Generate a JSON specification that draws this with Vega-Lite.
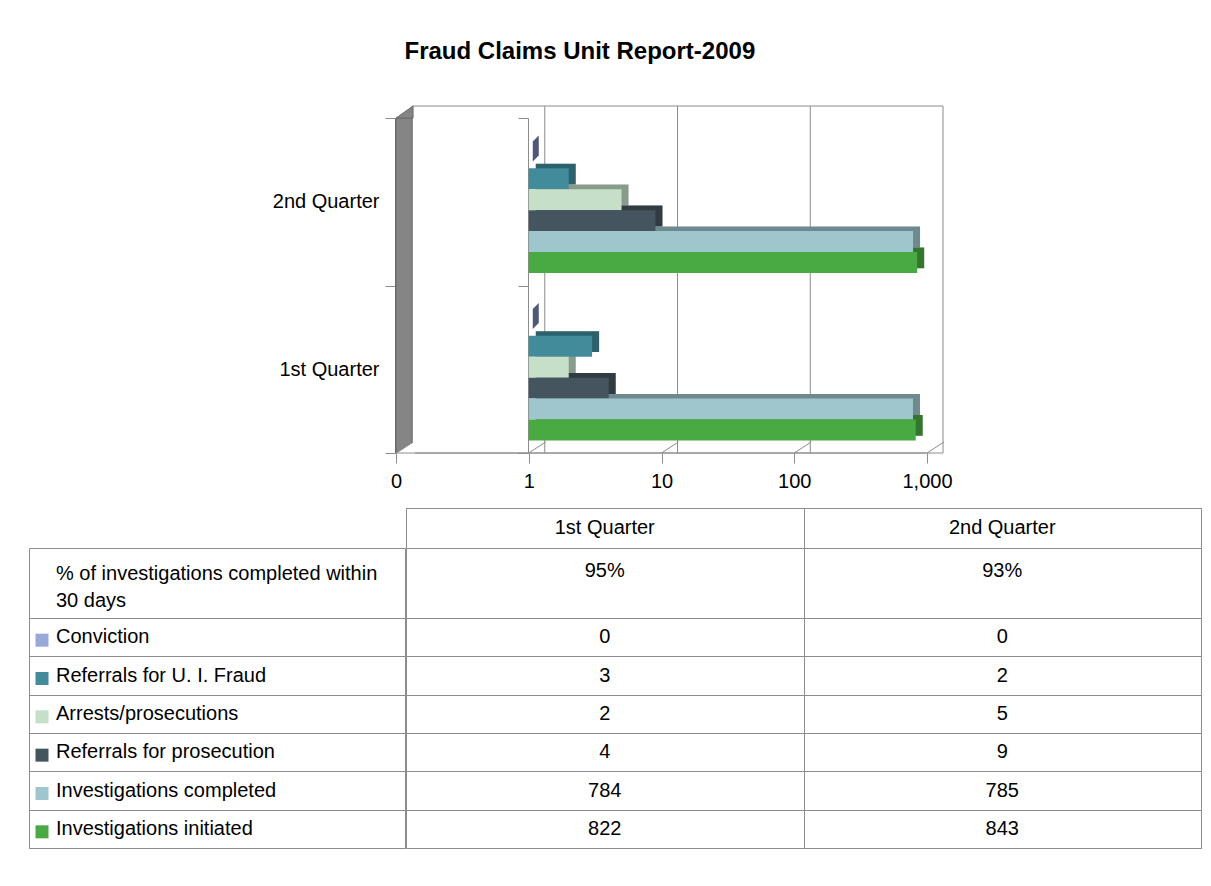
{
  "$schema": "https://vega.github.io/schema/vega-lite/v6.json",
  "padding": {"left": 28, "top": 40, "right": 10, "bottom": 10},
  "background": "white",
  "title": {"text": "Fraud Claims Unit Report-2009", "anchor": "start", "dx": 376, "fontSize": 24, "fontWeight": "bold", "font": "Liberation Sans", "color": "#000000", "offset": 40, "baseline": "top"},
  "config": {
    "view": {"stroke": null},
    "font": "Liberation Sans",
    "text": {"font": "Liberation Sans", "fontSize": 20, "color": "#000000"},
    "axis": {"labelFont": "Liberation Sans"}
  },
  "datasets": {
    "bars": [
      {"quarter": "1st Quarter", "series": "Conviction", "value": 0},
      {"quarter": "1st Quarter", "series": "Referrals for U. I. Fraud", "value": 3},
      {"quarter": "1st Quarter", "series": "Arrests/prosecutions", "value": 2},
      {"quarter": "1st Quarter", "series": "Referrals for prosecution", "value": 4},
      {"quarter": "1st Quarter", "series": "Investigations completed", "value": 784},
      {"quarter": "1st Quarter", "series": "Investigations initiated", "value": 822},
      {"quarter": "2nd Quarter", "series": "Conviction", "value": 0},
      {"quarter": "2nd Quarter", "series": "Referrals for U. I. Fraud", "value": 2},
      {"quarter": "2nd Quarter", "series": "Arrests/prosecutions", "value": 5},
      {"quarter": "2nd Quarter", "series": "Referrals for prosecution", "value": 9},
      {"quarter": "2nd Quarter", "series": "Investigations completed", "value": 785},
      {"quarter": "2nd Quarter", "series": "Investigations initiated", "value": 843}
    ],
    "pct": [
      {"quarter": "1st Quarter", "pct": "95%"},
      {"quarter": "2nd Quarter", "pct": "93%"}
    ]
  },
  "bounds": "flush",
  "spacing": 55,
  "vconcat": [
    {
      "width": 917,
      "height": 335,
      "data": {"name": "bars"},
      "resolve": {"scale": {"yOffset": "independent"}, "axis": {"y": "independent"}},
      "layer": [
        {
          "data": {"values": [{}]},
          "mark": {"type": "rect", "fill": "transparent", "stroke": "#8c8c8c", "strokeWidth": 1, "yOffset": -12, "y2Offset": -12},
          "encoding": {
            "x": {"datum": 0.132, "type": "quantitative", "scale": {"type": "log", "domain": [0.0001718, 1390], "nice": false},
              "axis": {"values": [0.1, 1, 10, 100, 1000], "format": ",.0f", "tickSize": 10, "tickColor": "#8c8c8c", "domain": false, "grid": false, "labelFontSize": 20, "labelColor": "#000000", "labelPadding": 8, "labelFont": "Liberation Sans", "title": null, "labelFlush": false, "labelOverlap": false}},
            "x2": {"datum": 1320}
          }
        },
        {
          "data": {"values": [{"g": 1}, {"g": 10}, {"g": 100}]},
          "mark": {"type": "rule", "color": "#8c8c8c", "xOffset": 16, "yOffset": -12, "y2Offset": -12},
          "encoding": {
            "x": {"field": "g", "type": "quantitative", "scale": {"type": "log", "domain": [0.0001718, 1390], "nice": false},
              "axis": {"values": [0.1, 1, 10, 100, 1000], "format": ",.0f", "tickSize": 10, "tickColor": "#8c8c8c", "domain": false, "grid": false, "labelFontSize": 20, "labelColor": "#000000", "labelPadding": 8, "labelFont": "Liberation Sans", "title": null, "labelFlush": false, "labelOverlap": false}}
          }
        },
        {
          "data": {"values": [{}]},
          "mark": {"type": "rect", "fill": "#858585", "stroke": "#6a6a6a", "strokeWidth": 1},
          "encoding": {
            "x": {"datum": 0.1, "type": "quantitative", "scale": {"type": "log", "domain": [0.0001718, 1390], "nice": false},
              "axis": {"values": [0.1, 1, 10, 100, 1000], "format": ",.0f", "tickSize": 10, "tickColor": "#8c8c8c", "domain": false, "grid": false, "labelFontSize": 20, "labelColor": "#000000", "labelPadding": 8, "labelFont": "Liberation Sans", "title": null, "labelFlush": false, "labelOverlap": false}},
            "x2": {"datum": 0.132}
          }
        },
        {
          "data": {"values": [{}]},
          "mark": {"type": "point", "shape": "M0,0L1,-0.7L1,0Z", "size": 1156, "filled": true, "fill": "#858585", "stroke": "#6a6a6a", "strokeWidth": 1, "opacity": 1},
          "encoding": {
            "x": {"datum": 0.1, "type": "quantitative", "scale": {"type": "log", "domain": [0.0001718, 1390], "nice": false},
              "axis": {"values": [0.1, 1, 10, 100, 1000], "format": ",.0f", "tickSize": 10, "tickColor": "#8c8c8c", "domain": false, "grid": false, "labelFontSize": 20, "labelColor": "#000000", "labelPadding": 8, "labelFont": "Liberation Sans", "title": null, "labelFlush": false, "labelOverlap": false}},
            "y": {"datum": "2nd Quarter", "type": "nominal", "bandPosition": 0, "scale": {"domain": ["2nd Quarter", "1st Quarter"], "paddingInner": 0, "paddingOuter": 0}, "axis": null}
          }
        },
        {
          "data": {"values": [{}]},
          "mark": {"type": "point", "shape": "M0.05,0L1.1,-0.68L1.1,0.1L0.05,0.1Z", "size": 1156, "filled": true, "fill": "#ffffff", "strokeWidth": 0, "opacity": 1},
          "encoding": {
            "x": {"datum": 0.1, "type": "quantitative", "scale": {"type": "log", "domain": [0.0001718, 1390], "nice": false},
              "axis": {"values": [0.1, 1, 10, 100, 1000], "format": ",.0f", "tickSize": 10, "tickColor": "#8c8c8c", "domain": false, "grid": false, "labelFontSize": 20, "labelColor": "#000000", "labelPadding": 8, "labelFont": "Liberation Sans", "title": null, "labelFlush": false, "labelOverlap": false}},
            "y": {"datum": "1st Quarter", "type": "nominal", "bandPosition": 1, "scale": {"domain": ["2nd Quarter", "1st Quarter"], "paddingInner": 0, "paddingOuter": 0}, "axis": null}
          }
        },
        {
          "data": {"values": [{}]},
          "mark": {"type": "rule", "color": "#8c8c8c"},
          "encoding": {
            "x": {"datum": 0.1, "type": "quantitative", "scale": {"type": "log", "domain": [0.0001718, 1390], "nice": false},
              "axis": {"values": [0.1, 1, 10, 100, 1000], "format": ",.0f", "tickSize": 10, "tickColor": "#8c8c8c", "domain": false, "grid": false, "labelFontSize": 20, "labelColor": "#000000", "labelPadding": 8, "labelFont": "Liberation Sans", "title": null, "labelFlush": false, "labelOverlap": false}},
            "x2": {"datum": 1000},
            "y": {"datum": "1st Quarter", "type": "nominal", "bandPosition": 1, "scale": {"domain": ["2nd Quarter", "1st Quarter"], "paddingInner": 0, "paddingOuter": 0}, "axis": null}
          }
        },
        {
          "data": {"values": [{"g": 0.1}, {"g": 1}, {"g": 10}, {"g": 100}, {"g": 1000}]},
          "mark": {"type": "point", "shape": "M0,0L1,-0.65", "size": 1156, "filled": false, "stroke": "#8c8c8c", "strokeWidth": 1, "opacity": 1},
          "encoding": {
            "x": {"field": "g", "type": "quantitative", "scale": {"type": "log", "domain": [0.0001718, 1390], "nice": false},
              "axis": {"values": [0.1, 1, 10, 100, 1000], "format": ",.0f", "tickSize": 10, "tickColor": "#8c8c8c", "domain": false, "grid": false, "labelFontSize": 20, "labelColor": "#000000", "labelPadding": 8, "labelFont": "Liberation Sans", "title": null, "labelFlush": false, "labelOverlap": false}},
            "y": {"datum": "1st Quarter", "type": "nominal", "bandPosition": 1, "scale": {"domain": ["2nd Quarter", "1st Quarter"], "paddingInner": 0, "paddingOuter": 0}, "axis": null}
          }
        },
        {
          "mark": {"type": "bar", "xOffset": 7, "x2Offset": 7},
          "encoding": {
            "y": {"field": "quarter", "type": "nominal", "scale": {"domain": ["2nd Quarter", "1st Quarter"], "paddingInner": 0, "paddingOuter": 0},
              "axis": {"orient": "left", "offset": -366, "tickBand": "extent", "tickSize": 10, "tickColor": "#8c8c8c", "domainColor": "#6a6a6a", "labelFontSize": 20, "labelColor": "#000000", "labelPadding": 6, "labelFont": "Liberation Sans", "title": null, "grid": false}},
            "yOffset": {"field": "series", "type": "nominal", "scale": {"domain": ["Conviction", "Referrals for U. I. Fraud", "Arrests/prosecutions", "Referrals for prosecution", "Investigations completed", "Investigations initiated"], "paddingInner": 0, "paddingOuter": 1.125, "align": 0.59}},
            "x": {"field": "value", "type": "quantitative", "scale": {"type": "log", "domain": [0.0001718, 1390], "nice": false},
              "axis": {"values": [0.1, 1, 10, 100, 1000], "format": ",.0f", "tickSize": 10, "tickColor": "#8c8c8c", "domain": false, "grid": false, "labelFontSize": 20, "labelColor": "#000000", "labelPadding": 8, "labelFont": "Liberation Sans", "title": null, "labelFlush": false, "labelOverlap": false}},
            "x2": {"datum": 1},
            "color": {"field": "series", "type": "nominal", "scale": {"domain": ["Conviction", "Referrals for U. I. Fraud", "Arrests/prosecutions", "Referrals for prosecution", "Investigations completed", "Investigations initiated"], "range": ["#98A8D8", "#418B9A", "#C5DFC8", "#45555F", "#9FC6CD", "#49A942"]}, "legend": null}
          }
        },
        {
          "mark": {"type": "bar", "xOffset": 7, "x2Offset": 7, "color": "#000000", "opacity": 0.3},
          "encoding": {
            "y": {"field": "quarter", "type": "nominal", "scale": {"domain": ["2nd Quarter", "1st Quarter"], "paddingInner": 0, "paddingOuter": 0},
              "axis": {"orient": "left", "offset": -499, "tickBand": "extent", "tickSize": 10, "tickColor": "#8c8c8c", "domainColor": "#8c8c8c", "labels": false, "title": null, "grid": false}},
            "yOffset": {"field": "series", "type": "nominal", "scale": {"domain": ["Conviction", "Referrals for U. I. Fraud", "Arrests/prosecutions", "Referrals for prosecution", "Investigations completed", "Investigations initiated"], "paddingInner": 0, "paddingOuter": 1.125, "align": 0.59}},
            "x": {"field": "value", "type": "quantitative", "scale": {"type": "log", "domain": [0.0001718, 1390], "nice": false},
              "axis": {"values": [0.1, 1, 10, 100, 1000], "format": ",.0f", "tickSize": 10, "tickColor": "#8c8c8c", "domain": false, "grid": false, "labelFontSize": 20, "labelColor": "#000000", "labelPadding": 8, "labelFont": "Liberation Sans", "title": null, "labelFlush": false, "labelOverlap": false}},
            "x2": {"datum": 1}
          }
        },
        {
          "mark": {"type": "bar"},
          "encoding": {
            "y": {"field": "quarter", "type": "nominal", "scale": {"domain": ["2nd Quarter", "1st Quarter"], "paddingInner": 0, "paddingOuter": 0}, "axis": null},
            "yOffset": {"field": "series", "type": "nominal", "scale": {"domain": ["Conviction", "Referrals for U. I. Fraud", "Arrests/prosecutions", "Referrals for prosecution", "Investigations completed", "Investigations initiated"], "paddingInner": 0, "paddingOuter": 1.125, "align": 0.7}},
            "x": {"field": "value", "type": "quantitative", "scale": {"type": "log", "domain": [0.0001718, 1390], "nice": false},
              "axis": {"values": [0.1, 1, 10, 100, 1000], "format": ",.0f", "tickSize": 10, "tickColor": "#8c8c8c", "domain": false, "grid": false, "labelFontSize": 20, "labelColor": "#000000", "labelPadding": 8, "labelFont": "Liberation Sans", "title": null, "labelFlush": false, "labelOverlap": false}},
            "x2": {"datum": 1},
            "color": {"field": "series", "type": "nominal", "scale": {"domain": ["Conviction", "Referrals for U. I. Fraud", "Arrests/prosecutions", "Referrals for prosecution", "Investigations completed", "Investigations initiated"], "range": ["#98A8D8", "#418B9A", "#C5DFC8", "#45555F", "#9FC6CD", "#49A942"]}, "legend": null}
          }
        },
        {
          "transform": [{"filter": "datum.value === 0"}],
          "mark": {"type": "point", "shape": "M0,1L0,-1L0.6,-1.6L0.6,0.4Z", "size": 400, "filled": true, "fill": "#4F5878", "strokeWidth": 0, "opacity": 1, "xOffset": 4},
          "encoding": {
            "y": {"field": "quarter", "type": "nominal", "scale": {"domain": ["2nd Quarter", "1st Quarter"], "paddingInner": 0, "paddingOuter": 0}, "axis": null},
            "yOffset": {"field": "series", "type": "nominal", "scale": {"domain": ["Conviction", "Referrals for U. I. Fraud", "Arrests/prosecutions", "Referrals for prosecution", "Investigations completed", "Investigations initiated"], "paddingInner": 0, "paddingOuter": 1.125, "align": 0.7}},
            "x": {"datum": 1, "type": "quantitative", "scale": {"type": "log", "domain": [0.0001718, 1390], "nice": false},
              "axis": {"values": [0.1, 1, 10, 100, 1000], "format": ",.0f", "tickSize": 10, "tickColor": "#8c8c8c", "domain": false, "grid": false, "labelFontSize": 20, "labelColor": "#000000", "labelPadding": 8, "labelFont": "Liberation Sans", "title": null, "labelFlush": false, "labelOverlap": false}}
          }
        }
      ]
    },
    {
      "spacing": -1,
      "bounds": "full",
      "hconcat": [
        {
          "spacing": 0,
          "bounds": "flush",
          "vconcat": [
            {
              "width": 376, "height": 40,
              "data": {"values": [{}]},
              "mark": {"type": "text"},
              "encoding": {"text": {"value": ""}}
            },
            {
              "width": 376, "height": 70,
              "data": {"values": [{}]},
              "view": {"stroke": "#8c8c8c"},
              "mark": {"type": "text", "align": "left", "baseline": "middle", "fontSize": 20, "lineHeight": 27},
              "encoding": {
                "x": {"value": 27},
                "y": {"value": 26},
                "text": {"value": ["% of investigations completed within", "30 days"]}
              }
            },
            {
              "width": 376, "height": 230,
              "data": {"name": "bars"},
              "transform": [{"filter": "datum.quarter === '1st Quarter'"}],
              "view": {"stroke": "#8c8c8c"},
              "encoding": {
                "y": {"field": "series", "type": "nominal",
                  "scale": {"domain": ["Conviction", "Referrals for U. I. Fraud", "Arrests/prosecutions", "Referrals for prosecution", "Investigations completed", "Investigations initiated"], "paddingInner": 0, "paddingOuter": 0},
                  "axis": {"labels": false, "ticks": false, "domain": false, "grid": true, "tickBand": "extent", "gridColor": "#8c8c8c", "title": null}}
              },
              "layer": [
                {
                  "mark": {"type": "square", "size": 169, "opacity": 1, "yOffset": 3},
                  "encoding": {
                    "x": {"value": 13},
                    "color": {"field": "series", "type": "nominal", "scale": {"domain": ["Conviction", "Referrals for U. I. Fraud", "Arrests/prosecutions", "Referrals for prosecution", "Investigations completed", "Investigations initiated"], "range": ["#98A8D8", "#418B9A", "#C5DFC8", "#45555F", "#9FC6CD", "#49A942"]}, "legend": null}
                  }
                },
                {
                  "mark": {"type": "text", "align": "left", "baseline": "middle", "fontSize": 20},
                  "encoding": {
                    "x": {"value": 27},
                    "text": {"field": "series"}
                  }
                }
              ]
            }
          ]
        },
        {
          "spacing": 0,
          "bounds": "flush",
          "vconcat": [
            {
              "width": 795, "height": 40,
              "data": {"name": "pct"},
              "view": {"stroke": "#8c8c8c"},
              "mark": {"type": "text", "fontSize": 20, "baseline": "middle"},
              "encoding": {
                "x": {"field": "quarter", "type": "nominal", "scale": {"domain": ["1st Quarter", "2nd Quarter"], "paddingInner": 0, "paddingOuter": 0},
                  "axis": {"orient": "top", "labels": false, "ticks": false, "domain": false, "grid": true, "tickBand": "extent", "gridColor": "#8c8c8c", "title": null}},
                "text": {"field": "quarter"}
              }
            },
            {
              "width": 795, "height": 70,
              "data": {"name": "pct"},
              "view": {"stroke": "#8c8c8c"},
              "mark": {"type": "text", "fontSize": 20, "baseline": "middle"},
              "encoding": {
                "x": {"field": "quarter", "type": "nominal", "scale": {"domain": ["1st Quarter", "2nd Quarter"], "paddingInner": 0, "paddingOuter": 0},
                  "axis": {"orient": "top", "labels": false, "ticks": false, "domain": false, "grid": true, "tickBand": "extent", "gridColor": "#8c8c8c", "title": null}},
                "y": {"value": 23},
                "text": {"field": "pct"}
              }
            },
            {
              "width": 795, "height": 230,
              "data": {"name": "bars"},
              "view": {"stroke": "#8c8c8c"},
              "mark": {"type": "text", "fontSize": 20, "baseline": "middle"},
              "encoding": {
                "x": {"field": "quarter", "type": "nominal", "scale": {"domain": ["1st Quarter", "2nd Quarter"], "paddingInner": 0, "paddingOuter": 0},
                  "axis": {"orient": "top", "labels": false, "ticks": false, "domain": false, "grid": true, "tickBand": "extent", "gridColor": "#8c8c8c", "title": null}},
                "y": {"field": "series", "type": "nominal",
                  "scale": {"domain": ["Conviction", "Referrals for U. I. Fraud", "Arrests/prosecutions", "Referrals for prosecution", "Investigations completed", "Investigations initiated"], "paddingInner": 0, "paddingOuter": 0},
                  "axis": {"labels": false, "ticks": false, "domain": false, "grid": true, "tickBand": "extent", "gridColor": "#8c8c8c", "title": null}},
                "text": {"field": "value", "type": "quantitative"}
              }
            }
          ]
        }
      ]
    }
  ]
}
